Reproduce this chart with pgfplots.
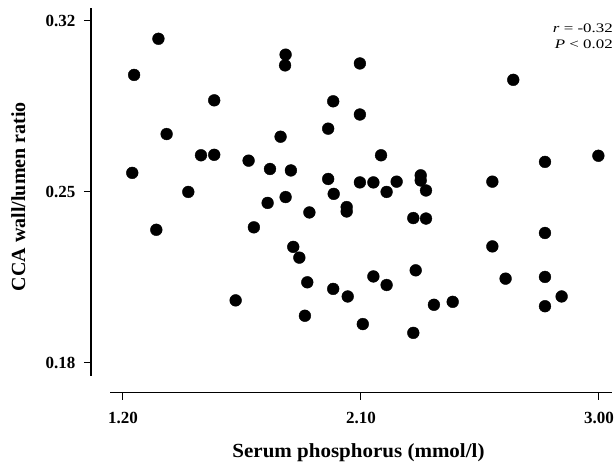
\documentclass[border=0pt]{standalone}
\usepackage{fontspec}
\setmainfont{Liberation Serif}
\usepackage{pgfplots}
\pgfplotsset{compat=1.18}

\begin{document}
\begin{tikzpicture}
\begin{axis}[
  scale only axis,
  width=521pt, height=384.7pt,
  xmin=1.079, xmax=3.0495,
  ymin=0.1677, ymax=0.3252,
  axis lines=left,
  axis line style={draw=none},
  tick align=outside,
  major tick length=7pt,
  xtick={1.2,2.1,3.0}, xticklabels={1.20,2.10,3.00},
  ytick={0.18,0.25,0.32}, yticklabels={0.18,0.25,0.32},
  tick style={black, line width=1pt},
  ticklabel style={font=\bfseries\fontsize{17}{19}\selectfont},
  xticklabel style={yshift=-9pt},
  yticklabel style={xshift=-5pt},
  xlabel={Serum phosphorus (mmol/l)},
  ylabel={CCA wall/lumen ratio},
  label style={font=\bfseries\fontsize{20}{24}\selectfont},
  xlabel style={at={(axis cs:2.0907,0.1410)}, anchor=base, xscale=1.05},
  ylabel style={at={(axis cs:0.8294,0.248)}, anchor=base},
  clip=false,
]
\addplot[only marks, mark=*, mark size=5.9pt, black] table {
x y
1.235 0.2577
1.242 0.2978
1.326 0.2344
1.334 0.3126
1.365 0.2736
1.447 0.2499
1.495 0.2649
1.545 0.2874
1.545 0.2651
1.626 0.2055
1.675 0.2627
1.695 0.2354
1.747 0.2454
1.756 0.2593
1.796 0.2725
1.815 0.3061
1.813 0.3017
1.815 0.2478
1.835 0.2587
1.844 0.2274
1.867 0.2230
1.888 0.1992
1.897 0.2129
1.905 0.2415
1.976 0.2758
1.976 0.2552
1.995 0.2870
1.997 0.2491
1.995 0.2102
2.046 0.2437
2.046 0.2419
2.050 0.2071
2.096 0.3025
2.096 0.2816
2.096 0.2538
2.107 0.1958
2.147 0.2538
2.147 0.2153
2.176 0.2649
2.197 0.2499
2.197 0.2118
2.235 0.2541
2.298 0.2392
2.298 0.1922
2.307 0.2178
2.326 0.2567
2.326 0.2546
2.346 0.2505
2.346 0.2390
2.376 0.2037
2.447 0.2049
2.597 0.2541
2.597 0.2276
2.647 0.2144
2.676 0.2958
2.796 0.2622
2.796 0.2331
2.796 0.2151
2.796 0.2031
2.859 0.2071
2.998 0.2647
};
% detached axis lines
\draw[line width=1.2pt] (axis cs:1.151,0.1677) -- (axis cs:3.0495,0.1677);
\draw[line width=1.2pt] (axis cs:1.079,0.1746) -- (axis cs:1.079,0.3252);
\node[anchor=base east, inner sep=0pt, xscale=1.3, font=\fontsize{13}{15}\selectfont] at (axis cs:3.0532,0.3151) {\textit{r} = -0.32};
\node[anchor=base east, inner sep=0pt, xscale=1.3, font=\fontsize{13}{15}\selectfont] at (axis cs:3.0532,0.3088) {\textit{P} < 0.02};
\coordinate (bl) at (rel axis cs:0,0);
\end{axis}
\pgfresetboundingbox
\path ([shift={(-91pt,-71.3pt)}]bl) rectangle ([shift={(524pt,392.7pt)}]bl);
\end{tikzpicture}
\end{document}
